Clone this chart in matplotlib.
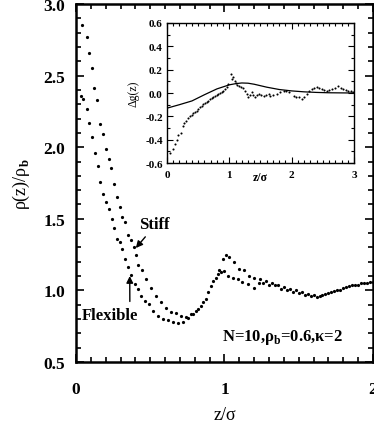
import matplotlib
matplotlib.use("Agg")
import matplotlib.pyplot as plt
from matplotlib.ticker import MultipleLocator

plt.rcParams["font.family"] = ["Liberation Serif", "DejaVu Serif"]
plt.rcParams["font.weight"] = "bold"
plt.rcParams["mathtext.fontset"] = "custom"
plt.rcParams["mathtext.rm"] = "Liberation Serif:bold"
plt.rcParams["mathtext.bf"] = "Liberation Serif:bold"

# density profiles rho(z)/rho_b
stiff_z = [0.042, 0.072, 0.087, 0.105, 0.123, 0.143, 0.163, 0.181, 0.199, 0.219,
           0.237, 0.257, 0.275, 0.293, 0.313, 0.331, 0.351, 0.369, 0.389, 0.405,
           0.418, 0.445, 0.474, 0.508, 0.541, 0.575, 0.609, 0.642, 0.676, 0.709,
           0.743, 0.776, 0.81, 0.843, 0.877, 0.911, 0.944, 0.966, 0.989, 1.01,
           1.033, 1.067, 1.10, 1.134, 1.168, 1.20, 1.24, 1.28, 1.32, 1.36,
           1.40, 1.44, 1.48, 1.52, 1.56, 1.60, 1.64, 1.68, 1.72, 1.76,
           1.80, 1.84, 1.88, 1.92, 1.96, 2.0]
stiff_rho = [2.855, 2.77, 2.66, 2.55, 2.41, 2.33, 2.16, 2.09, 1.99, 1.92,
             1.855, 1.74, 1.65, 1.585, 1.515, 1.48, 1.39, 1.35, 1.30, 1.247,
             1.18, 1.14, 1.08, 1.02, 0.963, 0.916, 0.88, 0.847, 0.84, 0.823,
             0.816, 0.835, 0.858, 0.893, 0.94, 1.03, 1.09, 1.14, 1.22, 1.25,
             1.23, 1.196, 1.15, 1.14, 1.10, 1.09, 1.08, 1.065, 1.05, 1.04,
             1.025, 1.01, 1.0, 0.99, 0.975, 0.965, 0.96, 0.975, 0.99, 1.005,
             1.02, 1.03, 1.04, 1.05, 1.055, 1.06]

flex_z = [0.034, 0.049, 0.072, 0.089, 0.107, 0.126, 0.146, 0.163, 0.183, 0.201,
          0.219, 0.24, 0.257, 0.277, 0.295, 0.313, 0.331, 0.349, 0.369, 0.396,
          0.418, 0.441, 0.463, 0.49, 0.519, 0.552, 0.586, 0.62, 0.653, 0.687,
          0.72, 0.754, 0.787, 0.82, 0.854, 0.888, 0.921, 0.955, 0.978, 1.0,
          1.022, 1.056, 1.089, 1.12, 1.156, 1.20, 1.23, 1.26, 1.30, 1.34,
          1.38, 1.42, 1.46, 1.50, 1.54, 1.58, 1.62, 1.66, 1.70, 1.74,
          1.78, 1.82, 1.86, 1.90, 1.94, 1.98]
flex_rho = [2.355, 2.34, 2.265, 2.17, 2.07, 1.96, 1.87, 1.76, 1.67, 1.615,
            1.57, 1.50, 1.435, 1.36, 1.335, 1.29, 1.22, 1.16, 1.11, 1.045,
            1.01, 0.963, 0.928, 0.905, 0.858, 0.823, 0.80, 0.79, 0.777, 0.772,
            0.777, 0.81, 0.835, 0.87, 0.917, 0.987, 1.068, 1.115, 1.13, 1.137,
            1.10, 1.09, 1.08, 1.057, 1.045, 1.02, 1.05, 1.055, 1.035, 1.04,
            1.01, 1.0, 0.99, 0.985, 0.97, 0.96, 0.955, 0.965, 0.98, 0.995,
            1.0, 1.025, 1.035, 1.04, 1.05, 1.06]

# inset: delta g(z), simulation points and theory curve
dg_z = [0.048, 0.09, 0.128, 0.155, 0.18, 0.22, 0.25, 0.28, 0.305, 0.34,
        0.37, 0.397, 0.42, 0.45, 0.475, 0.50, 0.53, 0.557, 0.58, 0.61,
        0.64, 0.663, 0.69, 0.717, 0.74, 0.77, 0.80, 0.824, 0.85, 0.878,
        0.90, 0.93, 0.96, 0.985, 1.02, 1.045, 1.064, 1.085, 1.107, 1.13,
        1.16, 1.19, 1.215, 1.25, 1.28, 1.30, 1.33, 1.36, 1.385, 1.41,
        1.44, 1.47, 1.51, 1.55, 1.59, 1.63, 1.65, 1.70, 1.76, 1.81,
        1.87, 1.91, 1.95, 2.03, 2.07, 2.11, 2.16, 2.20, 2.24, 2.28,
        2.32, 2.36, 2.40, 2.44, 2.48, 2.52, 2.56, 2.60, 2.64, 2.70,
        2.75, 2.79, 2.83, 2.87, 2.91, 2.95, 2.98]
dg_val = [-0.51, -0.48, -0.44, -0.40, -0.36, -0.34, -0.28, -0.26, -0.237, -0.21,
          -0.20, -0.19, -0.175, -0.165, -0.15, -0.137, -0.12, -0.108, -0.095, -0.088,
          -0.075, -0.066, -0.055, -0.046, -0.035, -0.023, -0.015, -0.009, 0.0, 0.006,
          0.015, 0.034, 0.05, 0.077, 0.163, 0.12, 0.134, 0.10, 0.09, 0.07,
          0.063, 0.05, 0.04, 0.02, -0.01, -0.037, -0.02, 0.006, -0.02, -0.037,
          -0.015, -0.009, -0.02, -0.023, -0.015, -0.009, -0.023, -0.015, -0.009, 0.01,
          0.02, 0.015, 0.006, -0.023, -0.03, -0.037, -0.05, -0.03, -0.009, 0.015,
          0.034, 0.04, 0.049, 0.04, 0.034, 0.025, 0.02, 0.028, 0.034, 0.045,
          0.063, 0.04, 0.034, 0.025, 0.02, 0.015, 0.006]

theory_z = [0.0, 0.2, 0.4, 0.6, 0.8, 1.0, 1.1, 1.2, 1.3, 1.4, 1.6, 1.8, 2.0,
            2.2, 2.4, 2.6, 2.8, 3.0]
theory_dg = [-0.13, -0.10, -0.068, -0.015, 0.035, 0.07, 0.08, 0.086, 0.084, 0.075,
             0.05, 0.03, 0.018, 0.01, 0.005, 0.002, 0.001, 0.0]

fig = plt.figure(figsize=(3.74, 4.27), dpi=100)
ax = fig.add_axes([0.2032, 0.1499, 0.794, 0.8384])

ax.plot(stiff_z, stiff_rho, "o", color="k", ms=2.3, mew=0)
ax.plot(flex_z, flex_rho, "o", color="k", ms=2.3, mew=0)

ax.set_xlim(0, 2)
ax.set_ylim(0.5, 3.0)
ax.xaxis.set_major_locator(MultipleLocator(1))
ax.xaxis.set_minor_locator(MultipleLocator(0.1))
ax.yaxis.set_major_locator(MultipleLocator(0.5))
ax.yaxis.set_minor_locator(MultipleLocator(0.1))
ax.xaxis.set_major_formatter(plt.FuncFormatter(lambda v, p: f"{v:.0f}"))
ax.yaxis.set_major_formatter(plt.FuncFormatter(lambda v, p: f"{v:.1f}"))
ax.tick_params(which="both", direction="in", top=True, right=True, width=1.2)
ax.tick_params(which="major", length=6, labelsize=12.5, pad=14)
ax.tick_params(axis="y", which="major", pad=8)
ax.tick_params(which="minor", length=3.5)
for s in ax.spines.values():
    s.set_linewidth(1.8)

ax.set_xlabel("z/σ", fontsize=13, labelpad=6)
ax.set_ylabel(r"ρ(z)/ρ$_\mathrm{b}$", fontsize=13, labelpad=8)

ax.annotate("Stiff", xy=(0.403, 1.296), xytext=(0.423, 1.464), fontsize=12,
            ha="left", va="center",
            arrowprops=dict(arrowstyle="-|>", color="k", lw=1, mutation_scale=10,
                            shrinkA=2, shrinkB=0,
                            relpos=(0.35, 0.0)))
ax.annotate("Flexible", xy=(0.362, 1.10), xytext=(0.04, 0.828), fontsize=12,
            ha="left", va="center",
            arrowprops=dict(arrowstyle="-|>", color="k", lw=1, mutation_scale=10,
                            shrinkA=2, shrinkB=0,
                            relpos=(0.85, 1.0)))
ax.text(1.39, 0.68, r"N=10,ρ$_\mathrm{b}$=0.6,κ=2", fontsize=12,
        ha="center", va="center")

ins = fig.add_axes([0.4465, 0.6159, 0.5, 0.3279])
ins.plot(theory_z, theory_dg, color="k", lw=0.9)
ins.plot(dg_z, dg_val, "o", color="k", ms=1.5, mew=0)
ins.set_xlim(0, 3)
ins.set_ylim(-0.6, 0.6)
ins.xaxis.set_major_locator(MultipleLocator(1))
ins.xaxis.set_minor_locator(MultipleLocator(0.1))
ins.yaxis.set_major_locator(MultipleLocator(0.2))
ins.yaxis.set_minor_locator(MultipleLocator(0.1))
ins.xaxis.set_major_formatter(plt.FuncFormatter(lambda v, p: f"{v:.0f}"))
ins.yaxis.set_major_formatter(plt.FuncFormatter(lambda v, p: f"{v:.1f}"))
ins.tick_params(which="both", direction="in", top=True, right=True, width=0.8)
ins.tick_params(which="major", length=4, labelsize=8, pad=3)
ins.tick_params(axis="x", which="major", pad=5)
ins.tick_params(which="minor", length=2)
for s in ins.spines.values():
    s.set_linewidth(1.0)
ins.text(1.5, -0.67, "z/σ", fontsize=8.5, ha="center", va="top")
ins.set_ylabel("Δg(z)", fontsize=8.5, labelpad=4)

fig.savefig("out.png", dpi=100)
